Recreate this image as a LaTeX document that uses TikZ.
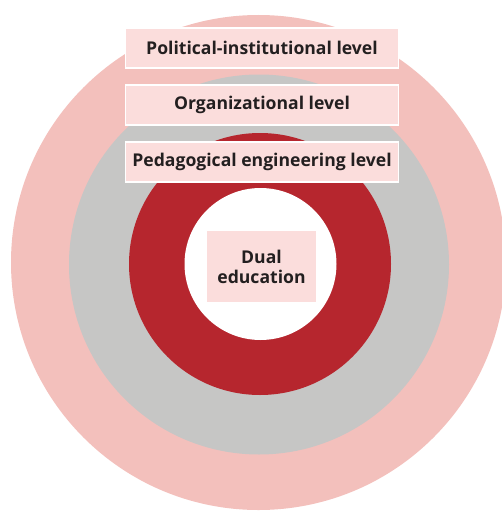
\documentclass[tikz,border=0pt]{standalone}
\usepackage{fontspec}
\setmainfont{Open Sans}
\definecolor{ringpink}{HTML}{F3C0BC}
\definecolor{ringgray}{HTML}{C6C6C5}
\definecolor{ringred}{HTML}{B6262E}
\definecolor{labelfill}{HTML}{FBDDDC}
\definecolor{labeltext}{HTML}{231F20}
\begin{document}
\begin{tikzpicture}[x=1pt,y=-1pt,
  levelbox/.style={draw=white,line width=1.5pt,fill=labelfill,
    minimum width=273pt,minimum height=40pt,inner sep=0pt,
    text=labeltext,font=\fontsize{17.6}{20}\selectfont\bfseries},
  corebox/.style={fill=labelfill,minimum width=109pt,minimum height=71pt,
    inner sep=0pt,align=center,text=labeltext,
    font=\fontsize{17.6}{20}\selectfont\bfseries}]
  \useasboundingbox (0,0) rectangle (502,511);
  \begin{scope}
    \clip (0,0) rectangle (502,511);
    % concentric levels, outermost first
    \fill[ringpink] (258.5,262.5) circle (247.5);
    \fill[ringgray] (259,264.5) circle (190);
    \fill[ringred] (260,264) circle (131);
    \fill[white] (260.5,264) circle (76);
  \end{scope}
  % level labels
  \node[levelbox] (political) at (262,48) {Political-institutional level};
  \node[levelbox] (organizational) at (262,105) {Organizational level};
  \node[levelbox] (pedagogical) at (262,162) {Pedagogical engineering level};
  \node[corebox] (dual) at (261.5,266.5) {Dual\\education};
\end{tikzpicture}
\end{document}
